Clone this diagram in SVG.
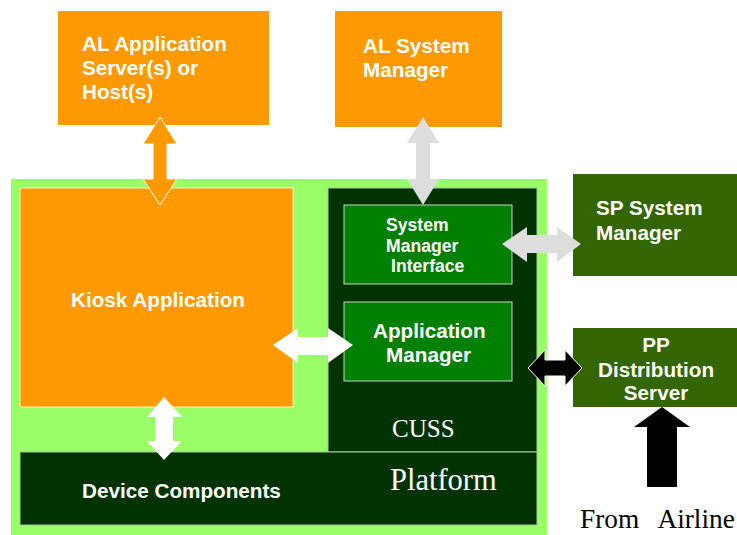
<svg xmlns="http://www.w3.org/2000/svg" width="737" height="535" viewBox="0 0 737 535">
  <style>
    .orange { fill: #FF9900; }
    .lime { fill: #99FF66; }
    .dark { fill: #003300; stroke: #A8C8A8; stroke-width: 1; }
    .mid { fill: #008000; stroke: #C8D8C8; stroke-width: 1; }
    .olive { fill: #336600; }
    .lbl { font-family: "Liberation Sans", Arial, sans-serif; font-weight: bold; font-size: 20.7px; fill: #FFFFFF; }
    .small { font-size: 17.6px; }
    .serif { font-family: "Liberation Serif", "Times New Roman", serif; fill: #FFFFFF; }
    .grey { fill: #DDDDDD; }
    .white { fill: #FFFFFF; }
    .black { fill: #000000; }
    .edge { stroke: #FFFFFF; stroke-width: 1; }
  </style>

  <rect width="737" height="535" fill="#FFFFFF"/>

  <g id="al-application-server">
    <rect class="orange" x="58" y="11" width="211" height="114"/>
    <text class="lbl" x="82" y="51">AL Application</text>
    <text class="lbl" x="82" y="75">Server(s) or</text>
    <text class="lbl" x="82" y="99">Host(s)</text>
  </g>

  <g id="al-system-manager">
    <rect class="orange" x="335" y="11" width="167" height="116"/>
    <text class="lbl" x="363" y="53">AL System</text>
    <text class="lbl" x="363" y="77">Manager</text>
  </g>

  <g id="kiosk">
    <rect class="lime" x="11" y="179" width="536" height="356"/>
  </g>

  <g id="kiosk-application">
    <rect class="orange" x="20" y="188" width="273" height="219" stroke="#FFF3C0" stroke-width="1"/>
    <text class="lbl" x="71" y="307">Kiosk Application</text>
  </g>

  <g id="cuss">
    <rect class="dark" x="328" y="188" width="209" height="264"/>
    <text class="serif" x="392" y="437" font-size="25">CUSS</text>
  </g>

  <g id="system-manager-interface">
    <rect class="mid" x="344" y="205" width="168" height="79"/>
    <text class="lbl small" x="386" y="231">System</text>
    <text class="lbl small" x="386" y="252">Manager</text>
    <text class="lbl small" x="391" y="272">Interface</text>
  </g>

  <g id="application-manager">
    <rect class="mid" x="344" y="302" width="168" height="79"/>
    <text class="lbl" x="373" y="338">Application</text>
    <text class="lbl" x="386" y="362">Manager</text>
  </g>

  <g id="platform">
    <rect class="dark" x="20" y="452" width="517" height="73"/>
    <text class="lbl" x="82" y="498">Device Components</text>
    <text class="serif" x="390" y="490" font-size="30.5">Platform</text>
  </g>

  <g id="sp-system-manager">
    <rect class="olive" x="573" y="174" width="164" height="102"/>
    <text class="lbl" x="596" y="215">SP System</text>
    <text class="lbl" x="596" y="240">Manager</text>
  </g>

  <g id="pp-distribution-server">
    <rect class="olive" x="573" y="328" width="164" height="79"/>
    <text class="lbl" x="656" y="352" text-anchor="middle">PP</text>
    <text class="lbl" x="656" y="377" text-anchor="middle">Distribution</text>
    <text class="lbl" x="656" y="400" text-anchor="middle">Server</text>
  </g>

  <g id="from-airline">
    <text x="580" y="528" font-family="Liberation Serif, 'Times New Roman', serif" font-size="27.3" word-spacing="13" fill="#000000">From Airline</text>
  </g>

  <g id="connectors">
    <!-- host link: AL application server to kiosk application -->
    <polygon class="orange edge" points="160,117 177,144 167,144 167,179 177,179 160,205 143,179 153,179 153,144 143,144"/>
    <!-- AL system manager to system manager interface -->
    <polygon class="grey" points="423,117 439,143 430,143 430,179 439,179 423,205 407,179 416,179 416,143 407,143"/>
    <!-- system manager interface to SP system manager -->
    <polygon class="grey" points="502,244 527,227 527,235 557,235 557,227 581,244 557,262 557,253 527,253 527,262"/>
    <!-- kiosk application to application manager -->
    <polygon class="white" points="273,345 298,328 298,337 328,337 328,328 353,345 328,363 328,355 298,355 298,363"/>
    <!-- application manager to PP distribution server -->
    <polygon class="black edge" points="528,368 545,350 545,360 565,360 565,350 582,368 565,386 565,376 545,376 545,386"/>
    <!-- kiosk application to device components -->
    <polygon class="white" points="164,397 182,417 173,417 173,441 182,441 164,460 147,441 155,441 155,417 147,417"/>
    <!-- feed from airline into PP distribution server -->
    <polygon class="black" points="662,407 690,427 677,427 677,487 647,487 647,427 634,427"/>
  </g>
</svg>
